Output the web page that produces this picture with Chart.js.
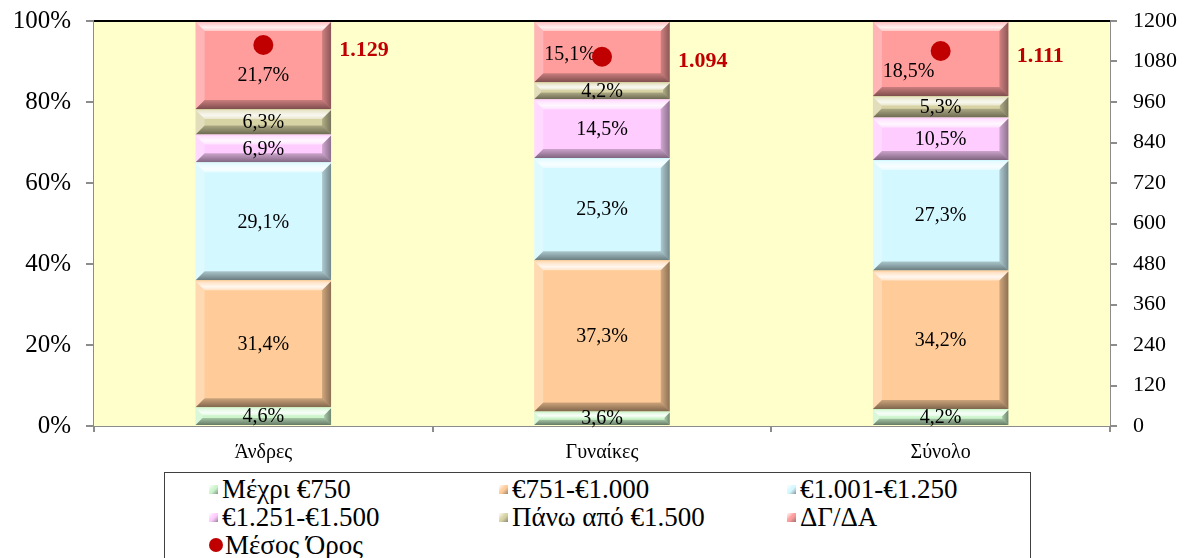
<!DOCTYPE html>
<html lang="el">
<head>
<meta charset="utf-8">
<title>Κατανομή εισοδήματος</title>
<script src="https://cdn.jsdelivr.net/npm/chart.js@4.4.1/dist/chart.umd.min.js"></script>
<style>
  html, body { margin: 0; padding: 0; background: #fff; }
  #wrap { position: relative; width: 1191px; height: 558px; overflow: hidden; }
  #chart { position: absolute; left: 0; top: 0; }
  #legend {
    position: absolute; left: 164px; top: 472px; width: 867px; height: 110px;
    border: 1px solid #404040; box-sizing: border-box; background: #fff;
    font-family: 'Liberation Serif', 'Times New Roman', serif; font-size: 27px; color: #000;
    padding: 2px 0 0 44px;
    display: grid; grid-template-columns: 290px 288px 240px; grid-auto-rows: 28px;
  }
  #legend .item { display: flex; align-items: center; white-space: nowrap; line-height: 28px; }
  #legend .sw { width: 9px; height: 9px; margin-right: 4px; flex: none; }
  #legend .dot { width: 14px; height: 14px; border-radius: 50%; margin-right: 2px; flex: none; }
</style>
</head>
<body>
<div id="wrap">
  <canvas id="chart" width="1191" height="558"></canvas>
  <div id="legend"></div>
</div>
<script>
// Categories and series values (percent of each group)
const categories = ['Άνδρες', 'Γυναίκες', 'Σύνολο'];
const upTo750 = [4.6, 3.6, 4.2];
const from751to1000 = [31.4, 37.3, 34.2];
const from1001to1250 = [29.1, 25.3, 27.3];
const from1251to1500 = [6.9, 14.5, 10.5];
const over1500 = [6.3, 4.2, 5.3];
const noAnswer = [21.7, 15.1, 18.5];
// Mean income in euro, read on the right axis
const meanIncome = [1129, 1094, 1111];

const seriesNames = ['Μέχρι €750', '€751-€1.000', '€1.001-€1.250', '€1.251-€1.500', 'Πάνω από €1.500', 'ΔΓ/ΔΑ'];
const meanName = 'Μέσος Όρος';
const leftTicks = [0, 20, 40, 60, 80, 100];
const rightTicks = [0, 120, 240, 360, 480, 600, 720, 840, 960, 1080, 1200];

const seriesValues = [upTo750, from751to1000, from1001to1250, from1251to1500, over1500, noAnswer];
const seriesColors = ['#CCF5CC', '#FFCC99', '#D4F8FF', '#FFCCFF', '#D8D3A5', '#FF9D9D'];
const meanColor = '#C00000';
const serif = "'Liberation Serif', 'Times New Roman', serif";

// Extra label shifts for the top segment so text clears the mean marker
const topLabelShift = [[0, 10], [-32, 2], [-32, 12]];

const pctFmt = v => v.toFixed(1).replace('.', ',') + '%';
const eurFmt = v => v.toLocaleString('de-DE');

function bevelRect(ctx, x0, y0, x1, y1) {
  const h = y1 - y0, w = x1 - x0;
  const b = Math.max(1, Math.min(9, h / 2.4, w / 2));
  const poly = (pts, fill) => {
    ctx.beginPath();
    ctx.moveTo(pts[0][0], pts[0][1]);
    for (let i = 1; i < pts.length; i++) ctx.lineTo(pts[i][0], pts[i][1]);
    ctx.closePath();
    ctx.fillStyle = fill;
    ctx.fill();
  };
  const gTop = ctx.createLinearGradient(0, y0, 0, y0 + b);
  gTop.addColorStop(0, 'rgba(255,255,255,0.35)');
  gTop.addColorStop(0.6, 'rgba(255,255,255,0.85)');
  gTop.addColorStop(1, 'rgba(255,255,255,0.45)');
  poly([[x0, y0], [x1, y0], [x1 - b, y0 + b], [x0 + b, y0 + b]], gTop);
  poly([[x0, y0], [x0 + b, y0 + b], [x0 + b, y1 - b], [x0, y1]], 'rgba(255,255,255,0.25)');
  const gRight = ctx.createLinearGradient(x1 - b, 0, x1, 0);
  gRight.addColorStop(0, 'rgba(0,0,0,0.18)');
  gRight.addColorStop(1, 'rgba(0,0,0,0.45)');
  poly([[x1, y0], [x1, y1], [x1 - b, y1 - b], [x1 - b, y0 + b]], gRight);
  const gBot = ctx.createLinearGradient(0, y1 - b, 0, y1);
  gBot.addColorStop(0, 'rgba(0,0,0,0.2)');
  gBot.addColorStop(1, 'rgba(0,0,0,0.5)');
  poly([[x0, y1], [x1, y1], [x1 - b, y1 - b], [x0 + b, y1 - b]], gBot);
}

const plotDecor = {
  id: 'plotDecor',
  beforeDatasetsDraw(chart) {
    const { ctx, chartArea: a } = chart;
    ctx.save();
    ctx.fillStyle = '#FFFFCC';
    ctx.fillRect(a.left, a.top, a.right - a.left, a.bottom - a.top);
    ctx.restore();
  },
  afterDatasetDraw(chart, args) {
    const meta = args.meta;
    if (meta.type !== 'bar') return;
    const ctx = chart.ctx;
    const ds = chart.data.datasets[args.index];
    const isTop = args.index === seriesValues.length - 1;
    ctx.save();
    meta.data.forEach((bar, i) => {
      const p = bar.getProps(['x', 'y', 'base', 'width'], true);
      const x0 = p.x - p.width / 2, x1 = p.x + p.width / 2;
      const y0 = Math.min(p.y, p.base), y1 = Math.max(p.y, p.base);
      bevelRect(ctx, x0, y0 + 1, x1, y1);
      let lx = p.x, ly = (y0 + y1) / 2;
      if (isTop) { lx += topLabelShift[i][0]; ly += topLabelShift[i][1]; }
      ctx.fillStyle = '#000';
      ctx.font = '20px ' + serif;
      ctx.textAlign = 'center';
      ctx.textBaseline = 'middle';
      ctx.fillText(pctFmt(ds.data[i]), lx, ly + 1);
    });
    ctx.restore();
  },
  afterDraw(chart) {
    const { ctx, chartArea: a } = chart;
    ctx.save();
    ctx.strokeStyle = '#000';
    ctx.lineWidth = 2;
    ctx.beginPath();
    ctx.moveTo(a.left, a.top);
    ctx.lineTo(a.right, a.top);
    ctx.stroke();
    // mean values next to the markers
    const meta = chart.getDatasetMeta(seriesValues.length);
    ctx.fillStyle = meanColor;
    ctx.font = 'bold 22px ' + serif;
    ctx.textAlign = 'left';
    ctx.textBaseline = 'middle';
    meta.data.forEach((pt, i) => {
      ctx.fillText(eurFmt(meanIncome[i]), pt.x + 76, pt.y + 5);
    });
    ctx.restore();
  }
};

const datasets = seriesValues.map((vals, k) => ({
  type: 'bar',
  label: seriesNames[k],
  data: vals,
  backgroundColor: seriesColors[k],
  borderWidth: 0,
  yAxisID: 'y',
  order: 1,
  barPercentage: 0.40,
  categoryPercentage: 1.0
}));
datasets.push({
  type: 'line',
  label: meanName,
  data: meanIncome,
  yAxisID: 'y1',
  showLine: false,
  pointRadius: 10,
  pointHoverRadius: 10,
  pointBackgroundColor: meanColor,
  pointBorderWidth: 0,
  order: 0
});

const axisGray = '#8C8C8C';
const noOverhang = s => { s.paddingTop = 0; s.paddingBottom = 0; };

new Chart(document.getElementById('chart'), {
  data: { labels: categories, datasets },
  plugins: [plotDecor],
  options: {
    responsive: false,
    animation: false,
    layout: { padding: { top: 21, left: 0, right: 0, bottom: 0 } },
    plugins: { legend: { display: false }, tooltip: { enabled: false } },
    scales: {
      x: {
        stacked: true,
        offset: true,
        grid: { display: true, drawOnChartArea: false, offset: true, color: axisGray, tickLength: 6, lineWidth: 2 },
        border: { color: axisGray, width: 2 },
        ticks: { color: '#000', font: { family: serif, size: 20 }, padding: 9 },
        afterFit: s => { s.height = 132; s.paddingLeft = 0; s.paddingRight = 0; }
      },
      y: {
        stacked: true,
        position: 'left',
        min: 0, max: 100,
        afterBuildTicks: s => { s.ticks = leftTicks.map(v => ({ value: v })); },
        grid: { drawOnChartArea: false, color: axisGray, tickLength: 8, lineWidth: 2 },
        border: { color: axisGray, width: 2 },
        ticks: { color: '#000', font: { family: serif, size: 25 }, padding: 15, callback: v => v + '%' },
        afterFit: s => { s.width = 94; noOverhang(s); }
      },
      y1: {
        stacked: false,
        position: 'right',
        min: 0, max: 1200,
        afterBuildTicks: s => { s.ticks = rightTicks.map(v => ({ value: v })); },
        grid: { drawOnChartArea: false, color: axisGray, tickLength: 7, lineWidth: 2 },
        border: { color: axisGray, width: 2 },
        ticks: { color: '#000', font: { family: serif, size: 22 }, padding: 16, callback: v => String(v) },
        afterFit: s => { s.width = 81; noOverhang(s); }
      }
    }
  }
});

// Legend laid out in three columns
const legend = document.getElementById('legend');
seriesNames.forEach((name, k) => {
  const c = seriesColors[k];
  const item = document.createElement('div');
  item.className = 'item';
  const sw = document.createElement('span');
  sw.className = 'sw';
  sw.style.background = 'linear-gradient(135deg, #fff 0%, ' + c + ' 45%, ' + c + ' 55%, #555 130%)';
  item.appendChild(sw);
  item.appendChild(document.createTextNode(name));
  legend.appendChild(item);
});
const mi = document.createElement('div');
mi.className = 'item';
const dot = document.createElement('span');
dot.className = 'dot';
dot.style.background = meanColor;
mi.appendChild(dot);
mi.appendChild(document.createTextNode(meanName));
legend.appendChild(mi);
</script>
</body>
</html>
